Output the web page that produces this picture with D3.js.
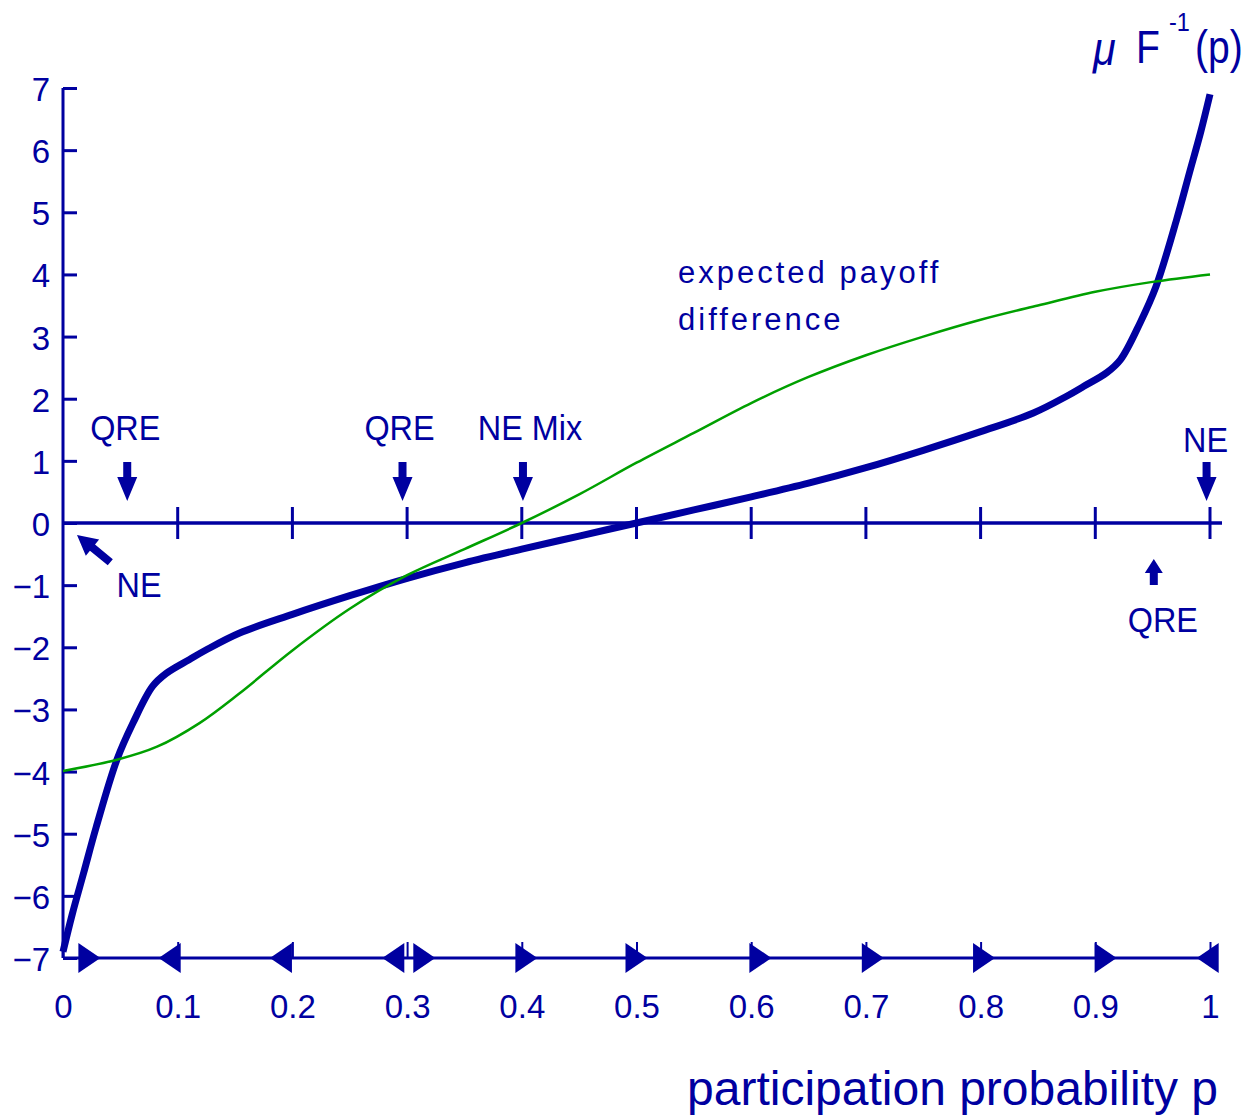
<!DOCTYPE html>
<html>
<head>
<meta charset="utf-8">
<script src="https://cdn.jsdelivr.net/npm/d3@7"></script>
<style>
  body { margin: 0; background: #fff; }
  text { font-family: "Liberation Sans", Arial, sans-serif; fill: #0000a0; }
</style>
</head>
<body>
<svg id="chart" width="1257" height="1116"></svg>
<script>
// mu F^-1(p)
const muP   = [0, 0.008, 0.018, 0.029, 0.047, 0.061, 0.078, 0.09, 0.11, 0.125, 0.154, 0.2, 0.25, 0.3, 0.35, 0.4, 0.45, 0.5,
               0.55, 0.6, 0.65, 0.7, 0.75, 0.8, 0.846, 0.875, 0.89, 0.91, 0.922, 0.939, 0.953, 0.971, 0.982, 0.992, 1];
const muVal = [-6.9, -6.3, -5.63, -4.89, -3.81, -3.22, -2.63, -2.42, -2.2, -2.04, -1.77, -1.47, -1.17, -0.89, -0.64, -0.42, -0.21, 0,
               0.21, 0.42, 0.64, 0.89, 1.17, 1.47, 1.77, 2.04, 2.2, 2.42, 2.63, 3.22, 3.81, 4.89, 5.63, 6.3, 6.9];

// expected payoff difference
const payP   = [0, 0.047, 0.082, 0.119, 0.154, 0.2, 0.25, 0.3, 0.35, 0.4, 0.45, 0.5, 0.55, 0.6, 0.65, 0.7, 0.75, 0.8, 0.85, 0.9, 0.95, 1];
const payVal = [-3.99, -3.81, -3.6, -3.22, -2.74, -2.05, -1.38, -0.84, -0.42, 0, 0.46, 0.97, 1.45, 1.93, 2.35, 2.7, 3.0, 3.27, 3.5, 3.72, 3.88, 4.0];

const xTicks = [0, 0.1, 0.2, 0.3, 0.4, 0.5, 0.6, 0.7, 0.8, 0.9, 1];
const yTicks = [-7, -6, -5, -4, -3, -2, -1, 0, 1, 2, 3, 4, 5, 6, 7];

// direction of adjustment along the bottom line
const flowP   = [0.023, 0.093, 0.19, 0.288, 0.315, 0.404, 0.5, 0.608, 0.706, 0.803, 0.909, 0.998];
const flowDir = [1, -1, -1, -1, 1, 1, 1, 1, 1, 1, 1, -1];

// equilibria marked above the p axis
const eqP     = [0.056, 0.296, 0.401, 0.997];
const eqLabel = ["QRE", "QRE", "NE Mix", "NE"];

const blue = "#0000a0", green = "#00a000";

function dograph() {
    let svg = d3.select("#chart");

    let x = d3.scaleLinear().domain([0, 1]).range([63, 1210]);
    let y = d3.scaleLinear().domain([-7, 7]).range([958, 88]);

    // y axis, ticks pointing right
    let yAxis = svg.append("g")
        .attr("transform", "translate(" + x(0) + ",0)")
        .call(d3.axisLeft(y).tickValues(yTicks).tickSize(-14).tickPadding(13));
    yAxis.select(".domain").remove();
    yAxis.selectAll("line").attr("stroke", blue).attr("stroke-width", 3);
    yAxis.selectAll("text").attr("font-size", 33).attr("dy", "0.38em").attr("fill", blue);
    svg.append("line")
        .attr("x1", x(0)).attr("x2", x(0)).attr("y1", y(7)).attr("y2", y(-7))
        .attr("stroke", blue).attr("stroke-width", 3);

    // p axis at zero, ticks crossing
    let zero = svg.append("g").attr("transform", "translate(0," + y(0) + ")");
    zero.append("line").attr("x1", x(0)).attr("x2", x(1) + 12)
        .attr("stroke", blue).attr("stroke-width", 3.5);
    zero.selectAll(".tk").data(xTicks.slice(1)).enter().append("line")
        .attr("x1", d => x(d)).attr("x2", d => x(d)).attr("y1", -16).attr("y2", 16)
        .attr("stroke", blue).attr("stroke-width", 3);

    // bottom line with tick labels
    let xAxis = svg.append("g")
        .attr("transform", "translate(0," + y(-7) + ")")
        .call(d3.axisBottom(x).tickValues(xTicks).tickFormat(d3.format("~g")).tickSize(-16).tickPadding(37));
    xAxis.select(".domain").remove();
    xAxis.selectAll("line").attr("stroke", blue).attr("stroke-width", 2);
    xAxis.selectAll("text").attr("font-size", 33).attr("fill", blue);
    svg.append("line")
        .attr("x1", x(0)).attr("x2", x(1)).attr("y1", y(-7)).attr("y2", y(-7))
        .attr("stroke", blue).attr("stroke-width", 3);

    svg.selectAll(".flow").data(flowP).enter().append("path")
        .attr("d", (d, i) => {
            let k = flowDir[i];
            return "M" + (11 * k) + ",0L" + (-11 * k) + ",-15L" + (-11 * k) + ",15Z";
        })
        .attr("transform", d => "translate(" + x(d) + "," + y(-7) + ")")
        .attr("fill", blue);

    let line = d3.line().curve(d3.curveCatmullRom.alpha(0.5));

    svg.append("path")
        .attr("d", line(muP.map((p, i) => [x(p), y(muVal[i])])))
        .attr("fill", "none").attr("stroke", blue).attr("stroke-width", 7)
        .attr("stroke-linejoin", "round");

    svg.append("path")
        .attr("d", line(payP.map((p, i) => [x(p), y(payVal[i])])))
        .attr("fill", "none").attr("stroke", green).attr("stroke-width", 2.5);

    // arrows
    function arrow(tx, ty, angle, len, headLen, shaftW, headW) {
        let pts = [[0, 0], [-headLen, -headW / 2], [-headLen, -shaftW / 2], [-len, -shaftW / 2],
                   [-len, shaftW / 2], [-headLen, shaftW / 2], [-headLen, headW / 2]];
        svg.append("path")
            .attr("d", "M" + pts.join("L") + "Z")
            .attr("transform", "translate(" + tx + "," + ty + ") rotate(" + angle + ")")
            .attr("fill", blue);
    }

    function label(tx, ty, str, size, sx, anchor) {
        return svg.append("text")
            .attr("transform", "translate(" + tx + "," + ty + ") scale(" + sx + ",1)")
            .attr("font-size", size)
            .attr("text-anchor", anchor || "middle")
            .text(str);
    }

    let labelDx = [-2, -3, 7, -1];
    let labelDy = [-83, -83, -83, -71];
    eqP.forEach((p, i) => {
        arrow(x(p), y(0) - 22, 90, 39, 24, 8, 20);
        label(x(p) + labelDx[i], y(0) + labelDy[i], eqLabel[i], 36, 0.9);
    });

    // NE at p = 0
    arrow(x(0) + 14, y(0) + 12, -140.7, 43, 20, 8, 21);
    label(x(0) + 76, y(0) + 74, "NE", 36, 0.9);

    // QRE near p = 0.95
    arrow(x(0.951), y(0) + 36, -90, 26, 14, 8, 18);
    label(x(0.951) + 9, y(0) + 109, "QRE", 36, 0.9);

    svg.append("text").attr("x", 678).attr("y", 283)
        .attr("font-size", 31).attr("letter-spacing", 3).text("expected payoff");
    svg.append("text").attr("x", 678).attr("y", 330)
        .attr("font-size", 31).attr("letter-spacing", 3).text("difference");

    svg.append("text").attr("x", 1218).attr("y", 1105)
        .attr("font-size", 48).attr("text-anchor", "end").text("participation probability p");

    // y axis title: mu F^-1(p)
    label(1093, 65, "\u03bc", 46, 0.9, "start").attr("font-style", "italic");
    label(1136, 63, "F", 46, 0.85, "start");
    label(1169, 31, "-1", 26, 0.9, "start");
    label(1195, 63, "(p)", 46, 0.85, "start");
}

document.addEventListener("DOMContentLoaded", dograph);
</script>
</body>
</html>
